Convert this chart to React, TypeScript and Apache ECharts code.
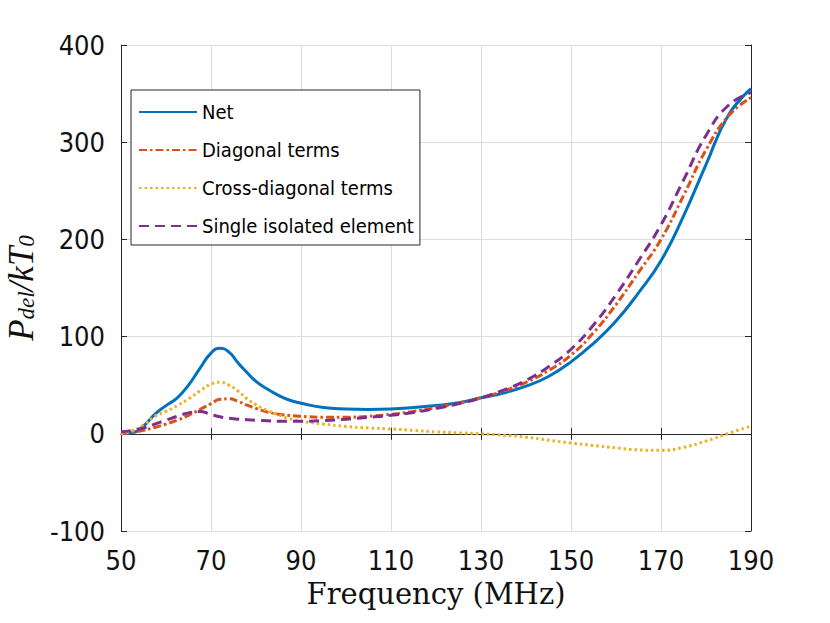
import React, { useEffect, useRef } from "react";
import * as echarts from "echarts";

const freq = [50, 52.5, 55, 57.5, 60, 62.5, 65, 67.5, 70, 72, 74, 76, 78, 80, 82.5, 85, 87.5, 90, 95, 100, 105, 110, 115, 120, 125, 130, 135, 140, 145, 150, 155, 160, 165, 170, 175, 180, 185, 190];

const netValues = [0, 1, 8, 20, 29, 37, 50, 67, 83, 88, 84, 73, 63, 54, 46, 39.5, 34.5, 31.5, 27, 25.5, 25, 25.5, 27, 29, 32, 37, 42, 49, 59, 74, 93, 116, 145, 178, 224, 277, 328, 355];

const diagonalValues = [0, 1.5, 3.5, 6.5, 10, 14, 19, 25, 31, 35.5, 36, 33.5, 29.5, 26, 22.5, 20.2, 18.8, 18, 17, 17, 18, 20, 23, 27, 31.5, 37, 44, 53, 65, 81, 104, 133, 166, 200, 245, 292, 327, 346];

const crossValues = [0, 3, 9, 18, 23, 29, 36, 44, 51, 53, 50, 44, 36, 30, 24, 19.5, 15.5, 13, 10, 7.5, 6, 5, 3.5, 2, 1, 0, -1.5, -3.5, -6.5, -9.5, -12, -14.5, -16.5, -17, -14, -7.5, 0.5, 8];

const singleValues = [2, 3.5, 6, 10, 14, 18, 21.5, 23, 20, 17.5, 16, 15, 14.5, 14, 13.5, 13, 13, 13, 13.5, 15, 17, 19, 22, 26, 31, 37, 45, 55, 69, 87, 112, 143, 178, 215, 261, 307, 338, 351];

const seriesNames = ["Net", "Diagonal terms", "Cross-diagonal terms", "Single isolated element"];
const xTicks = { min: 50, max: 190, interval: 20 };
const yTicks = { min: -100, max: 400, interval: 100 };

const TICK_FONT = "'Liberation Sans Narrow', 'DejaVu Sans Condensed', 'Liberation Sans', sans-serif";

export default function App() {
  const ref = useRef<HTMLDivElement>(null);
  useEffect(() => {
    if (!ref.current) return;
    const chart = echarts.init(ref.current, undefined, { renderer: "svg" });
    const pairs = (vals: number[]) => freq.map((f, i) => [f, vals[i]]);
    const axisLine = { show: true, lineStyle: { color: "#262626", width: 1 } };
    const tickIn = { show: true, inside: true, length: 6, lineStyle: { color: "#262626", width: 1 } };
    const gridLine = { show: true, lineStyle: { color: "#dedede", width: 1 } };
    const tickLabel = { color: "#111", fontSize: 27, fontFamily: TICK_FONT };

    chart.setOption({
      animation: false,
      backgroundColor: "#fff",
      grid: { left: 121, right: 79, top: 45, bottom: 92, containLabel: false, outerBoundsMode: "none" },
      legend: {
        orient: "vertical",
        left: 131,
        top: 90,
        data: seriesNames,
        itemWidth: 58,
        itemHeight: 22,
        itemGap: 16,
        padding: [11, 6, 8, 7],
        backgroundColor: "#fff",
        borderColor: "#262626",
        borderWidth: 1,
        borderRadius: 0,
        itemStyle: { color: "rgba(0,0,0,0)", borderWidth: 0, opacity: 0 },
        textStyle: { color: "#000", fontSize: 20, lineHeight: 22, fontFamily: TICK_FONT },
      },
      xAxis: [
        {
          type: "value",
          min: xTicks.min,
          max: xTicks.max,
          interval: xTicks.interval,
          position: "bottom",
          axisLine,
          axisTick: tickIn,
          splitLine: gridLine,
          axisLabel: { ...tickLabel, margin: 16 },
          name: "Frequency (MHz)",
          nameLocation: "middle",
          nameGap: 48,
          nameTextStyle: { color: "#111", fontSize: 29, fontFamily: "'DejaVu Serif', 'Liberation Serif', serif" },
        },
        {
          type: "value",
          min: xTicks.min,
          max: xTicks.max,
          interval: xTicks.interval,
          position: "top",
          axisLine,
          axisTick: tickIn,
          splitLine: { show: false },
          axisLabel: { show: false },
        },
      ],
      yAxis: [
        {
          type: "value",
          min: yTicks.min,
          max: yTicks.max,
          interval: yTicks.interval,
          position: "left",
          axisLine,
          axisTick: tickIn,
          splitLine: gridLine,
          axisLabel: { ...tickLabel, margin: 16 },
          name: "{p|P}{s|del}{p|/kT}{s|0}",
          nameLocation: "middle",
          nameRotate: 90,
          nameGap: 82,
          nameTextStyle: {
            rich: {
              p: { fontSize: 35, fontStyle: "italic", fontFamily: "'Liberation Serif', 'DejaVu Serif', serif", color: "#111", lineHeight: 34, verticalAlign: "middle" },
              s: { fontSize: 23, fontStyle: "italic", fontFamily: "'Liberation Serif', 'DejaVu Serif', serif", color: "#111", lineHeight: 22, verticalAlign: "bottom" },
            },
          },
        },
        {
          type: "value",
          min: yTicks.min,
          max: yTicks.max,
          interval: yTicks.interval,
          position: "right",
          axisLine,
          axisTick: tickIn,
          splitLine: { show: false },
          axisLabel: { show: false },
        },
      ],
      series: [
        {
          name: seriesNames[0],
          type: "line",
          data: pairs(netValues),
          smooth: 0.5,
          symbol: "none",
          lineStyle: { color: "#0072BD", width: 3, type: "solid" },
          itemStyle: { color: "#0072BD" },
        },
        {
          name: seriesNames[1],
          type: "line",
          data: pairs(diagonalValues),
          smooth: 0.5,
          symbol: "none",
          lineStyle: { color: "#D95319", width: 3, type: [8, 3, 2.5, 3] },
          itemStyle: { color: "#D95319" },
        },
        {
          name: seriesNames[2],
          type: "line",
          data: pairs(crossValues),
          smooth: 0.5,
          symbol: "none",
          lineStyle: { color: "#EDB120", width: 3, type: [2.5, 3] },
          itemStyle: { color: "#EDB120" },
        },
        {
          name: seriesNames[3],
          type: "line",
          data: pairs(singleValues),
          smooth: 0.5,
          symbol: "none",
          lineStyle: { color: "#7E2F8E", width: 3, type: [10, 6] },
          itemStyle: { color: "#7E2F8E" },
        },
      ],
    });
    return () => chart.dispose();
  }, []);
  return <div ref={ref} style={{ position: "fixed", left: 0, top: 0, width: 830, height: 623 }} />;
}
